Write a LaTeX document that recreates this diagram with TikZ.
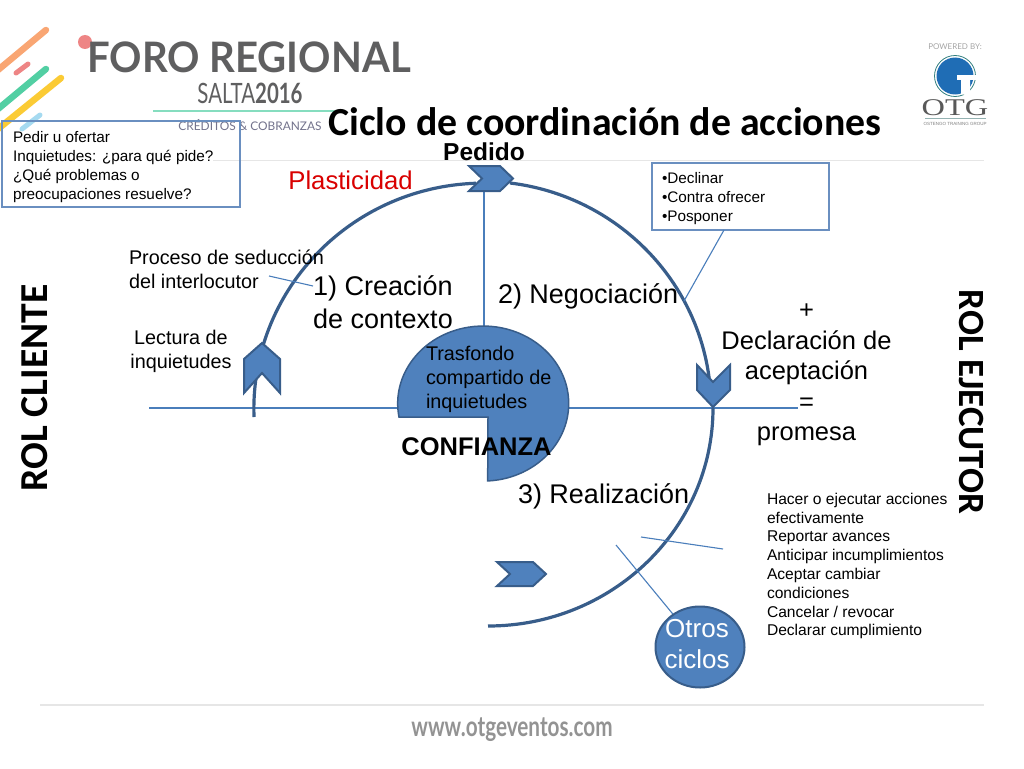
\documentclass[tikz,border=0pt]{standalone}
\usepackage{fontspec}
\setmainfont{Liberation Sans}
\newfontfamily\carlito{Carlito}
\newfontfamily\latofam{Lato}
\newfontfamily\serifam{Liberation Serif}
\usetikzlibrary{shapes.geometric}
\definecolor{fillblue}{HTML}{4F81BD}
\definecolor{edgeblue}{HTML}{385D8A}
\definecolor{thinblue}{HTML}{4A7EBB}
\definecolor{boxblue}{HTML}{6A8FC0}
\definecolor{logogray}{HTML}{5F5F60}
\definecolor{rulegray}{HTML}{E6E6E6}
\definecolor{stOrange}{HTML}{F9A673}
\definecolor{stPink}{HTML}{EE8585}
\definecolor{stGreen}{HTML}{52CFA3}
\definecolor{stYellow}{HTML}{FBCB35}
\definecolor{stBlue}{HTML}{A5DAF0}
\definecolor{otgblue}{HTML}{1F6DB5}
\newcommand{\fs}[2]{\fontsize{#1}{#2}\selectfont}
\tikzset{
  lbl/.style={inner sep=0pt,outer sep=0pt,text=black},
  lft/.style={lbl,anchor=west,align=left},
  ctr/.style={lbl,anchor=center,align=center},
  bigarc/.style={draw=edgeblue,line width=3.2pt},
  thinline/.style={draw=thinblue,line width=1.1pt},
  chev/.style={fill=fillblue,draw=edgeblue,line width=2pt,line join=miter},
  infobox/.style={draw=boxblue,line width=1.2pt},
  stripe/.style={line width=6.5pt,line cap=round},
  logotxt/.style={lbl,anchor=center,text=logogray},
}
\begin{document}
\begin{tikzpicture}[x=1pt,y=-1pt]
\useasboundingbox (0,0) rectangle (1024,768);
\fill[white] (0,0) rectangle (1024,768);
% header decoration
\draw[stripe,color=stOrange] (-2,70) -- (46,30);
\draw[stripe,color=stPink,line width=5pt] (16,73) -- (28,64);
\draw[stripe,color=stGreen] (-2,109) -- (46,69);
\draw[stripe,color=stYellow] (-2,129) -- (61,78);
\draw[stripe,color=stBlue,line width=5pt] (22,129) -- (40,115);
\fill[stPink] (85,42) circle (7);
\node[logotxt,font=\latofam\bfseries\fs{42}{42},xscale=.955] (foro) at (249,57) {FORO REGIONAL};
\node[logotxt,font=\latofam\fs{28}{28},xscale=.73] (salta) at (250,93) {SALTA{\bfseries 2016}};
\draw[color=stGreen!70!white,line width=1.5pt] (153,111) -- (335,111);
\node[logotxt,font=\latofam\fs{11.9}{12},text=gray!90!blue] (cred) at (250,125) {CRÉDITOS \& COBRANZAS};
% OTG logo
\node[lbl,font=\latofam\fs{8}{8},text=gray!70] (pow) at (955,47) {POWERED BY:};
\draw[color=teal!60!gray,line width=.8pt] (955,76) circle (20.5);
\fill[otgblue] (955,76) circle (18.5);
\fill[white] (957,75) rectangle (976,80);
\fill[white] (961,80) -- (970,80) -- (970,96) -- (961,94) -- cycle;
\node[lbl,font=\serifam\fs{24}{24},text=gray!70!black,xscale=1.35] (otg) at (955,108) {OTG};
\draw[color=teal!40!gray!60,line width=1pt] (925,118) -- (986,118);
\node[lbl,font=\fs{4.5}{5},text=gray] (ost) at (955,124) {OSTENGO TRAINING GROUP};
% rules
\draw[color=rulegray,line width=1.5pt] (213,160.5) -- (984,160.5);
\draw[color=rulegray,line width=2pt] (40,705) -- (984,705);
\node[lbl,font=\latofam\bfseries\fs{28}{28},text=gray!85,xscale=.74] (web) at (512,730) {www.otgeventos.com};
% titles
\node[lbl,font=\carlito\bfseries\fs{39.8}{40}] (title) at (605,122) {Ciclo de coordinación de acciones};
\node[lbl,font=\bfseries\fs{24.5}{25}] (pedido) at (484,152) {Pedido};
\node[lbl,font=\fs{25.7}{26},text=red!85!black] (plast) at (350.5,180) {Plasticidad};
\node[lbl,font=\carlito\bfseries\fs{39.6}{40},rotate=90] (cliente) at (35,388) {ROL CLIENTE};
\node[lbl,font=\carlito\bfseries\fs{37}{37},rotate=-90] (ejecutor) at (971,402) {ROL EJECUTOR};
% axes
\coordinate (axL) at (149,408);
\coordinate (axR) at (798,408);
\coordinate (axT) at (484,182);
\coordinate (axB) at (484,330);
\draw[thinline] (axL) -- (axR);
\draw[thinline] (axT) -- (axB);
% pacman
\path[fill=fillblue,draw=edgeblue,line width=1.5pt]
  (399,417) arc[start angle=170,end angle=360,x radius=85.5,y radius=77.5]
  arc[start angle=0,end angle=87,x radius=85.5,y radius=77.5] -- (488,417) -- cycle;
% arcs
\coordinate (arcA) at (254,417);
\coordinate (arcB) at (510,183);
\coordinate (arcC) at (713,408);
\draw[bigarc] (arcA) arc[start angle=178,end angle=268,x radius=230,y radius=226];
\draw[bigarc] (arcB) arc[start angle=277,end angle=355,x radius=229,y radius=226];
\draw[bigarc] (arcC) arc[start angle=0,end angle=90,x radius=225,y radius=218];
% chevrons
\draw[chev] (469,166) -- (500,166) -- (513,178.5) -- (500,191) -- (469,191) -- (482,178.5) -- cycle;
\draw[chev] (262,343) -- (280,359) -- (280,393) -- (262,373) -- (244,393) -- (244,359) -- cycle;
\draw[chev] (713,407) -- (730,390) -- (730,365) -- (713,382) -- (697,365) -- (697,390) -- cycle;
\draw[chev] (497,562) -- (533,562) -- (546,574) -- (533,586) -- (497,586) -- (510,574) -- cycle;
% boxes
\node[infobox,lbl,minimum width=238pt,minimum height=86pt,anchor=north west] (boxL) at (2,121) {};
\node[lft,font=\fs{15.3}{18.8}] (boxLt) at (13,167) {Pedir u ofertar\\Inquietudes: ¿para qué pide?\\¿Qué problemas o\\preocupaciones resuelve?};
\node[infobox,lbl,minimum width=177pt,minimum height=67pt,anchor=north west] (boxR) at (652,163) {};
\node[lft,font=\fs{15.3}{18.8}] (boxRt) at (662,198.5) {•Declinar\\•Contra ofrecer\\•Posponer};
% labels
\node[lft,font=\fs{19.8}{24.5}] (proc) at (129,269.5) {Proceso de seducción\\del interlocutor};
\node[ctr,font=\fs{19.8}{23.5}] (lect) at (181,351.5) {Lectura de\\inquietudes};
\node[ctr,font=\fs{27}{33}] (crea) at (383,302.5) {1) Creación\\de contexto};
\node[lft,font=\fs{27}{33}] (nego) at (498,296) {2) Negociación};
\node[ctr,font=\fs{25.5}{30.5}] (decl) at (806.5,375) {+\\Declaración de\\aceptación\\=\\promesa};
\node[lft,font=\fs{19.8}{24}] (tras) at (426,379) {Trasfondo\\compartido de\\inquietudes};
\node[lbl,font=\bfseries\fs{25.5}{26}] (conf) at (476.5,447) {CONFIANZA};
\node[lft,font=\fs{27}{33}] (real) at (518,496) {3) Realización};
\node[lft,font=\fs{15.6}{18.8}] (hacer) at (767,566) {Hacer o ejecutar acciones\\efectivamente\\Reportar avances\\Anticipar incumplimientos\\Aceptar cambiar\\condiciones\\Cancelar / revocar\\Declarar cumplimiento};
% otros ciclos
\node[ellipse,fill=fillblue,draw=edgeblue,line width=2pt,minimum width=89pt,minimum height=81pt,inner sep=0pt] (otros) at (700,647) {};
\node[ctr,text=white,font=\fs{26}{31}] (otrost) at (697,644.5) {Otros\\ciclos};
% connectors
\coordinate (pTop) at (724,230);
\coordinate (pEnd) at (684,301);
\draw[thinline] (pTop) -- (pEnd);
\coordinate (sA) at (269,276);
\coordinate (sB) at (313,286);
\draw[thinline] (sA) -- (sB);
\coordinate (tA) at (641,537);
\coordinate (tB) at (723,549);
\draw[thinline] (tA) -- (tB);
\coordinate (oA) at (616,545);
\draw[thinline] (oA) -- (otros);
\end{tikzpicture}
\end{document}
